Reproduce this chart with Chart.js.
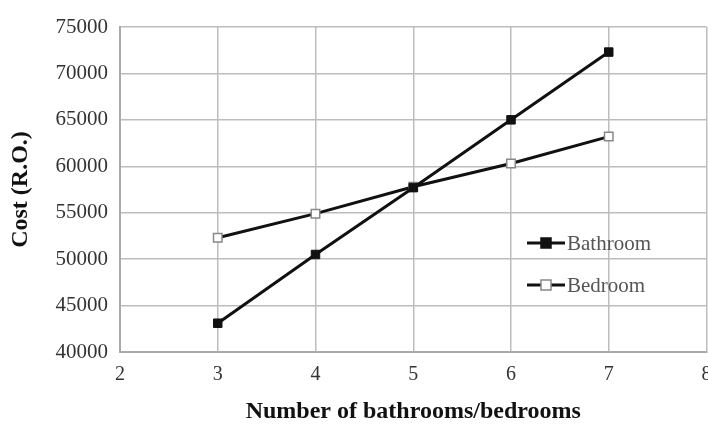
<!DOCTYPE html>
<html>
<head>
<meta charset="utf-8">
<style>
  html, body { margin: 0; padding: 0; background: #fff; overflow: hidden; }
  #wrap { width: 708px; height: 426px; position: relative; overflow: hidden; }
  #c { display: block; }
</style>
<script src="https://cdn.jsdelivr.net/npm/chart.js@4/dist/chart.umd.min.js"></script>
</head>
<body>
<div id="wrap"><canvas id="c" width="714" height="426"></canvas></div>
<script>
// Number of rooms on the x axis
const rooms = [3, 4, 5, 6, 7];
// Cost in R.O. for each room count
const bathroomCost = [43100, 50500, 57700, 65000, 72300];
const bedroomCost = [52300, 54900, 57800, 60300, 63200];
const seriesNames = ['Bathroom', 'Bedroom'];

const serif = '"Liberation Serif", "Times New Roman", serif';

// Legend drawn inside the plot area, to the right of the crossing lines
const innerLegend = {
  id: 'innerLegend',
  afterDraw(chart) {
    const ctx = chart.ctx;
    const area = chart.chartArea;
    const x0 = area.left + 407;
    const rows = [area.top + 216, area.top + 258];
    chart.data.datasets.forEach((ds, i) => {
      const y = rows[i];
      ctx.save();
      ctx.strokeStyle = ds.borderColor;
      ctx.lineWidth = 3;
      ctx.beginPath();
      ctx.moveTo(x0, y);
      ctx.lineTo(x0 + 38, y);
      ctx.stroke();
      const s = 10;
      ctx.fillStyle = ds.pointBackgroundColor;
      ctx.fillRect(x0 + 19 - s / 2, y - s / 2, s, s);
      ctx.lineWidth = 1.5;
      ctx.strokeStyle = ds.pointBorderColor;
      ctx.strokeRect(x0 + 19 - s / 2, y - s / 2, s, s);
      ctx.fillStyle = '#555';
      ctx.font = '21px ' + serif;
      ctx.textBaseline = 'middle';
      ctx.textAlign = 'left';
      ctx.fillText(ds.label, x0 + 40, y + 1);
      ctx.restore();
    });
  }
};

new Chart(document.getElementById('c'), {
  type: 'line',
  data: {
    datasets: [
      {
        label: seriesNames[0],
        data: rooms.map((r, i) => ({ x: r, y: bathroomCost[i] })),
        borderColor: '#111',
        borderWidth: 3,
        pointStyle: 'rect',
        pointRadius: 6,
        pointBackgroundColor: '#111',
        pointBorderColor: '#111',
        pointBorderWidth: 1,
        tension: 0
      },
      {
        label: seriesNames[1],
        data: rooms.map((r, i) => ({ x: r, y: bedroomCost[i] })),
        borderColor: '#111',
        borderWidth: 3,
        pointStyle: 'rect',
        pointRadius: 6,
        pointBackgroundColor: '#fff',
        pointBorderColor: '#888',
        pointBorderWidth: 1.5,
        tension: 0
      }
    ]
  },
  options: {
    responsive: false,
    animation: false,
    layout: { padding: { top: 27, right: 0, bottom: 0, left: 0 } },
    plugins: {
      legend: { display: false },
      tooltip: { enabled: false }
    },
    scales: {
      x: {
        type: 'linear',
        min: 2,
        max: 8,
        ticks: {
          stepSize: 1,
          padding: 11,
          color: '#333',
          font: { family: serif, size: 20 }
        },
        grid: { color: '#bdbdbd', lineWidth: 1.5, drawTicks: false },
        border: { color: '#aaa', width: 2 },
        title: {
          display: true,
          text: 'Number of bathrooms/bedrooms',
          color: '#111',
          font: { family: serif, size: 24, weight: 'bold' },
          padding: { top: 3, bottom: 0 }
        },
        afterFit(scale) {
          scale.height = 74;
          // let the plot run out to the right edge
          scale.paddingRight = 0;
        }
      },
      y: {
        min: 40000,
        max: 75000,
        ticks: {
          stepSize: 5000,
          padding: 12,
          color: '#333',
          font: { family: serif, size: 21 },
          callback: v => String(v)
        },
        grid: { color: '#bdbdbd', lineWidth: 1.5, drawTicks: false },
        border: { color: '#aaa', width: 2 },
        title: {
          display: true,
          text: 'Cost (R.O.)',
          color: '#111',
          font: { family: serif, size: 24, weight: 'bold' },
          padding: { top: 6, bottom: 0 }
        },
        afterFit(scale) { scale.width = 120; }
      }
    }
  },
  plugins: [innerLegend]
});
</script>
</body>
</html>
